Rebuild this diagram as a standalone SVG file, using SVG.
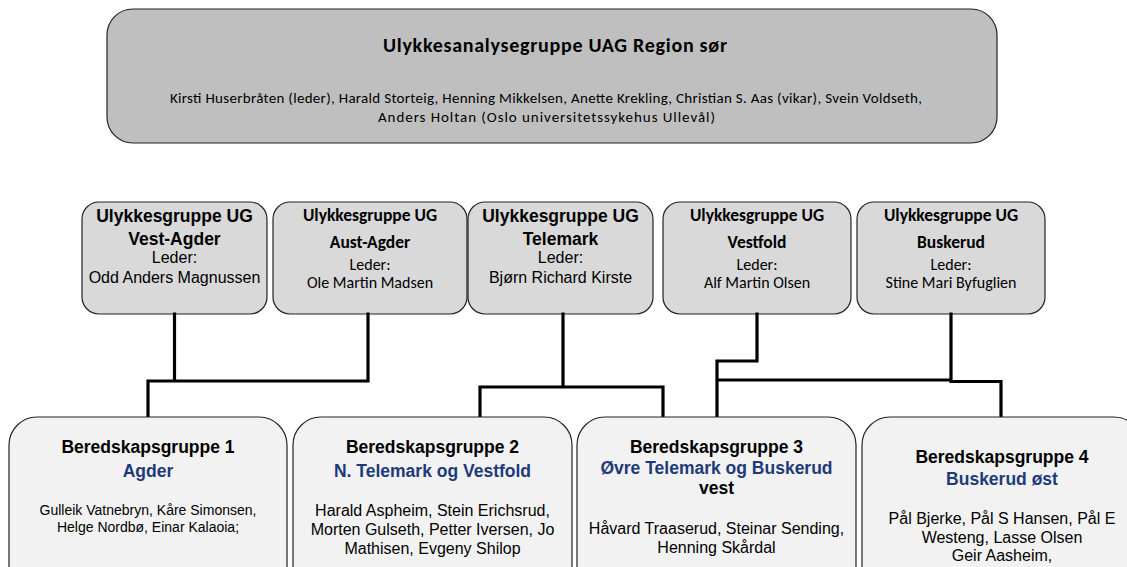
<svg xmlns="http://www.w3.org/2000/svg" width="1127" height="567" viewBox="0 0 1127 567">
<style>
.top{fill:#bfbfbf;stroke:#222;stroke-width:1.2}
.ug{fill:#d9d9d9;stroke:#222;stroke-width:1.2}
.bg{fill:#f2f2f2;stroke:#222;stroke-width:1.2}
.conn{stroke:#000;stroke-width:3.2;fill:none;stroke-linejoin:miter;stroke-linecap:square}
text{text-anchor:middle;fill:#000}
.a{font-family:"Liberation Sans",Arial,sans-serif}
.c{font-family:Carlito,Lato,sans-serif}
.b{font-weight:bold}
.blue{fill:#1f3a7a}
</style>
<rect width="1127" height="567" fill="#fff"/>
<g id="uag">
<rect class="top" x="107" y="9" width="890" height="134" rx="26"/>
<text class="c b" x="555" y="52" font-size="20" textLength="344">Ulykkesanalysegruppe UAG Region sør</text>
<text class="c" x="546" y="103" font-size="15" textLength="752">Kirsti Huserbråten (leder), Harald Storteig, Henning Mikkelsen, Anette Krekling, Christian S. Aas (vikar), Svein Voldseth,</text>
<text class="c" x="546.5" y="122" font-size="15" textLength="337">Anders Holtan (Oslo universitetssykehus Ullevål)</text>
</g>
<g id="ug-vest-agder">
<rect class="ug" x="82" y="202" width="185" height="112" rx="17"/>
<text class="a b" x="174.5" y="222" font-size="17.5">Ulykkesgruppe UG</text>
<text class="a b" x="174.5" y="245" font-size="17.5">Vest-Agder</text>
<text class="a" x="174.5" y="263" font-size="16">Leder:</text>
<text class="a" x="174.5" y="283" font-size="16">Odd Anders Magnussen</text>
</g>
<g id="ug-aust-agder">
<rect class="ug" x="273" y="202" width="194" height="112" rx="17"/>
<text class="c b" x="370" y="221" font-size="17.5">Ulykkesgruppe UG</text>
<text class="c b" x="370" y="248" font-size="17.5">Aust-Agder</text>
<text class="c" x="370" y="270" font-size="16">Leder:</text>
<text class="c" x="370" y="288" font-size="16">Ole Martin Madsen</text>
</g>
<g id="ug-telemark">
<rect class="ug" x="468" y="202" width="185" height="112" rx="17"/>
<text class="a b" x="560.5" y="222" font-size="17.5">Ulykkesgruppe UG</text>
<text class="a b" x="560.5" y="245" font-size="17.5">Telemark</text>
<text class="a" x="560.5" y="263" font-size="16">Leder:</text>
<text class="a" x="560.5" y="283" font-size="16">Bjørn Richard Kirste</text>
</g>
<g id="ug-vestfold">
<rect class="ug" x="663" y="202" width="188" height="112" rx="17"/>
<text class="c b" x="757" y="221" font-size="17.5">Ulykkesgruppe UG</text>
<text class="c b" x="757" y="248" font-size="17.5">Vestfold</text>
<text class="c" x="757" y="270" font-size="16">Leder:</text>
<text class="c" x="757" y="288" font-size="16">Alf Martin Olsen</text>
</g>
<g id="ug-buskerud">
<rect class="ug" x="857" y="202" width="188" height="112" rx="17"/>
<text class="c b" x="951" y="221" font-size="17.5">Ulykkesgruppe UG</text>
<text class="c b" x="951" y="248" font-size="17.5">Buskerud</text>
<text class="c" x="951" y="270" font-size="16">Leder:</text>
<text class="c" x="951" y="288" font-size="16">Stine Mari Byfuglien</text>
</g>
<g id="connectors">
<path class="conn" d="M174.5 314 V381 M148 417 V381 H368 V314"/>
<path class="conn" d="M563 314 V387 M480 417 V387 H663 V417"/>
<path class="conn" d="M757 314 V361 H717 V417 M717 380 H951 V314 M951 381.5 H1001 V417"/>
</g>
<g id="bg1">
<rect class="bg" x="9" y="417" width="278" height="200" rx="28"/>
<text class="a b" x="148" y="453" font-size="17.5">Beredskapsgruppe 1</text>
<text class="a b blue" x="148" y="477" font-size="17.5">Agder</text>
<text class="a" x="148" y="515" font-size="14">Gulleik Vatnebryn, Kåre Simonsen,</text>
<text class="a" x="148" y="532" font-size="14">Helge Nordbø, Einar Kalaoia;</text>
</g>
<g id="bg2">
<rect class="bg" x="293" y="417" width="279" height="200" rx="28"/>
<text class="a b" x="432.5" y="453" font-size="17.5">Beredskapsgruppe 2</text>
<text class="a b blue" x="432.5" y="477" font-size="17.5">N. Telemark og Vestfold</text>
<text class="a" x="432.5" y="516" font-size="16">Harald Aspheim, Stein Erichsrud,</text>
<text class="a" x="432.5" y="535" font-size="16">Morten Gulseth, Petter Iversen, Jo</text>
<text class="a" x="432.5" y="554" font-size="16">Mathisen, Evgeny Shilop</text>
</g>
<g id="bg3">
<rect class="bg" x="577" y="417" width="279" height="200" rx="28"/>
<text class="a b" x="716.5" y="453" font-size="17.5">Beredskapsgruppe 3</text>
<text class="a b blue" x="716.5" y="474" font-size="17.5">Øvre Telemark og Buskerud</text>
<text class="a b" x="716.5" y="494" font-size="17.5">vest</text>
<text class="a" x="716.5" y="534" font-size="16">Håvard Traaserud, Steinar Sending,</text>
<text class="a" x="716.5" y="553" font-size="16">Henning Skårdal</text>
</g>
<g id="bg4">
<rect class="bg" x="862" y="417" width="280" height="200" rx="28"/>
<text class="a b" x="1002" y="463" font-size="17.5">Beredskapsgruppe 4</text>
<text class="a b blue" x="1002" y="485" font-size="17.5">Buskerud øst</text>
<text class="a" x="1002" y="524" font-size="16">Pål Bjerke, Pål S Hansen, Pål E</text>
<text class="a" x="1002" y="543" font-size="16">Westeng, Lasse Olsen</text>
<text class="a" x="1002" y="561" font-size="16">Geir Aasheim,</text>
</g>
</svg>
